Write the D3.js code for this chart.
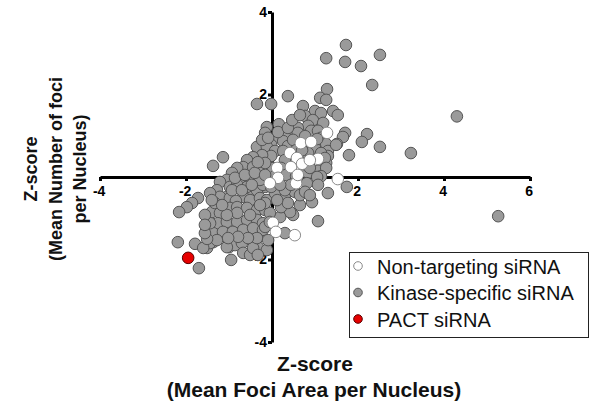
<!DOCTYPE html>
<html>
<head>
<meta charset="utf-8">
<script src="https://cdn.jsdelivr.net/npm/d3@7"></script>
<style>
  html, body { margin: 0; padding: 0; background: #fff; }
  svg { display: block; font-family: "Liberation Sans", Arial, Helvetica, sans-serif; }
</style>
</head>
<body>
<svg id="chart" width="592" height="408"></svg>
<script>
// ---- data ----
const seriesNames = ["Non-targeting siRNA", "Kinase-specific siRNA", "PACT siRNA"];
const xTickValues = [-4, -2, 2, 4, 6];
const yTickValues = [4, 2, -2, -4];

// Kinase-specific siRNA  [x = Z-score mean foci area, y = Z-score mean number of foci]
const kinase = [
  [1.72,3.20],[1.26,2.88],[1.70,2.79],[2.07,2.69],[2.51,2.96],[2.33,2.23],[1.28,2.13],[1.12,1.92],
  [1.26,1.87],[0.37,1.96],[-0.35,1.77],[-0.02,1.77],[4.30,1.47],[1.42,1.60],[1.53,1.50],[0.16,1.28],
  [-0.12,1.21],[1.70,1.07],[1.65,0.97],[2.21,1.04],[2.09,0.85],[2.51,0.73],[1.51,0.80],[1.79,0.53],
  [3.23,0.58],[1.74,-0.24],[1.30,-0.39],[5.26,-0.95],[1.07,-1.07],[0.93,-0.61],[0.30,-1.36],[0.49,-0.92],
  [-1.14,0.48],[-1.37,0.27],[-1.72,-0.51],[-1.86,-0.63],[-1.98,-0.73],[-2.16,-0.85],[-2.19,-1.58],[-1.79,-1.62],
  [-1.70,-2.21],[-1.51,-1.72],[-1.37,-1.58],[-0.95,-2.01],[-1.00,-1.70],[-0.86,-1.65],[-0.70,-1.60],[-0.67,-1.84],
  [-0.51,-1.89],[-0.33,-1.70],
  [0.72,1.72],[1.00,1.60],[1.14,1.55],[0.77,1.48],[0.95,1.38],[1.19,1.31],[0.84,1.24],[0.60,1.19],
  [0.91,1.12],[1.07,1.12],[0.49,1.02],[0.30,0.99],[0.07,0.95],[-0.16,1.07],[0.60,1.07],[0.77,0.99],
  [1.14,0.95],[0.26,0.87],[-0.02,0.78],[0.37,0.75],[1.07,0.75],[1.00,0.70],[1.26,0.80],[1.30,0.63],
  [1.30,0.51],[1.26,0.34],[1.49,0.78],[-0.35,0.73],[-0.12,0.73],[0.07,0.63],[0.26,0.63],[-0.02,0.51],
  [-0.23,0.53],[-0.44,0.48],[-0.58,0.41],[1.14,0.58],[0.84,0.58],[1.23,0.46],[0.88,0.41],[0.65,0.53],
  [0.53,0.41],[0.30,0.41],[0.21,0.22],[0.02,0.22],[0.09,0.05],[0.33,0.05],[0.56,0.02],[0.84,0.10],
  [1.07,0.15],[1.26,0.22],[1.14,0.02],[-0.67,0.24],[-0.81,0.22],[-0.93,0.10],[-0.28,0.10],[-0.44,0.24],
  [-0.16,0.34],[0.72,0.34],[0.88,0.22],[0.49,0.90],[1.05,0.92],
  [-1.05,-0.07],[-1.21,-0.12],[-1.28,-0.32],[-0.98,-0.24],[-0.74,-0.15],[-0.51,-0.07],[-0.16,-0.24],[-0.44,-0.39],
  [-0.67,-0.48],[-1.05,-0.48],[-0.81,-0.19],[-0.58,-0.24],[-0.35,-0.32],[-0.21,-0.19],[-1.21,-0.48],[-0.98,-0.51],
  [-0.84,-0.58],[-0.51,-0.56],[-0.28,-0.51],[-0.12,-0.56],[-1.40,-0.85],[-1.21,-0.87],[-0.98,-0.75],[-0.81,-0.73],
  [-0.58,-0.75],[-0.35,-0.80],[-0.16,-0.80],[-1.26,-1.12],[-1.05,-1.09],[-0.81,-1.09],[-0.58,-1.04],[-0.35,-1.04],
  [-0.21,-1.12],[-1.37,-1.36],[-1.14,-1.33],[-0.91,-1.33],[-0.67,-1.28],[-0.44,-1.24],[-0.21,-1.28],[-1.44,-1.60],
  [-1.28,-1.53],[-1.05,-1.70],[-0.44,-1.72],[-0.12,-1.77],[-1.60,-1.72],[-1.51,-1.50],[-0.33,-1.89],[-1.44,-1.12],
  [-1.56,-1.36],[-1.33,-0.63],[-1.44,-0.39],[0.53,-0.36],[0.30,-0.51],[0.65,-0.68],[0.42,-0.85],[0.19,-0.97],
  [-0.05,-0.87],[-0.16,-1.21],[-0.16,-0.63],[-0.28,-0.07],[0.81,-0.15],[1.05,0.00],[0.21,-0.73],[0.37,-0.63],
  [0.65,-0.44],[0.07,-0.39],[-0.02,-0.24],[0.30,-0.32],[0.44,-0.19],[0.77,-0.36],[0.12,-0.56],[0.88,-0.44],
  [1.07,-0.19],[0.19,-0.19],[-0.05,-1.09],[-0.35,-1.48],[-0.56,-1.48],[-0.79,-1.45],[-1.02,-1.48],[-0.81,-0.87],
  [-1.05,-0.92],[-0.51,-0.92],[-0.93,-0.32],[-0.70,-0.32],[-0.47,-0.19],[-0.86,-0.02],[-0.63,0.05],[-0.40,0.10],
  [-0.16,0.05],[-0.33,0.36],[-0.23,0.90],[-0.09,0.95],[0.14,1.09],[0.37,1.19],[0.47,1.38],[0.65,1.50],
  [0.56,0.65],[0.70,0.65],[-0.28,-0.68],[-1.16,-0.68],[-1.40,-0.56],[-1.56,-0.92],[-1.56,-1.16],[-0.09,-1.53]
];

// Non-targeting siRNA
const nonTargeting = [
  [0.67,0.82],[0.91,0.85],[0.42,0.58],[0.58,0.46],[0.70,0.32],[0.44,0.24],[0.12,0.22],[0.14,-0.02],
  [-0.05,-0.15],[0.56,-0.15],[0.60,0.05],[1.07,0.44],[0.88,0.41],[1.28,1.07],[1.53,-0.05],[0.02,-1.11],
  [0.09,-1.33],[0.53,-1.41]
];

// PACT siRNA
const pact = [[-1.95,-1.96]];

// ---- drawing ----
const svg = d3.select("#chart");
const x = d3.scaleLinear().domain([-4, 6]).range([100, 530]);
const y = d3.scaleLinear().domain([-4, 4]).range([342, 12]);

const styles = {
  "Non-targeting siRNA": { fill: "#ffffff", stroke: "#8a8a8a" },
  "Kinase-specific siRNA": { fill: "#9a9a9a", stroke: "#555555" },
  "PACT siRNA": { fill: "#e60000", stroke: "#5a0000" }
};

// axes (hyphen-minus labels as in the original)
const fmt = d => String(d);
const xAxis = d3.axisBottom(x).tickValues(xTickValues).tickSize(4).tickSizeOuter(0).tickPadding(5).tickFormat(fmt);
const yAxis = d3.axisLeft(y).tickValues(yTickValues).tickSize(4).tickSizeOuter(0).tickPadding(1).tickFormat(fmt);

const gx = svg.append("g").attr("transform", `translate(0,${y(0)})`).call(xAxis);
const gy = svg.append("g").attr("transform", `translate(${x(0)},0)`).call(yAxis);

[gx, gy].forEach(g => {
  g.select(".domain").attr("stroke", "#000").attr("stroke-width", 3);
  g.selectAll(".tick line").attr("stroke", "#000").attr("stroke-width", 3);
  g.selectAll(".tick text").attr("fill", "#000")
    .style("font-size", "14px").style("font-weight", "bold")
    .style("font-family", "'Liberation Sans', Arial, sans-serif");
});
gx.selectAll(".tick text").attr("dx", "-0.1em");

// points
function drawSeries(data, name) {
  const st = styles[name];
  svg.append("g").selectAll("circle").data(data).join("circle")
    .attr("cx", d => x(d[0])).attr("cy", d => y(d[1])).attr("r", 5.8)
    .attr("fill", st.fill).attr("stroke", st.stroke).attr("stroke-width", 1);
}
drawSeries(kinase, "Kinase-specific siRNA");
drawSeries(nonTargeting, "Non-targeting siRNA");
drawSeries(pact, "PACT siRNA");

// axis titles
const xt = svg.append("text").attr("text-anchor", "middle")
  .style("font-size", "21px").style("font-weight", "bold").attr("fill", "#111");
xt.append("tspan").attr("x", 315).attr("y", 371).text("Z-score");
xt.append("tspan").attr("x", 314).attr("y", 397).text("(Mean Foci Area per Nucleus)");

const yt = svg.append("text").attr("text-anchor", "middle")
  .attr("transform", "translate(0,169) rotate(-90)")
  .style("font-size", "18px").style("font-weight", "bold").attr("fill", "#111");
yt.append("tspan").attr("x", 0).attr("y", 37).text("Z-score");
yt.append("tspan").attr("x", 0).attr("y", 62).text("(Mean Number of foci");
yt.append("tspan").attr("x", 0).attr("y", 86).text("per Nucleus)");

// legend
const lg = svg.append("g");
lg.append("rect").attr("x", 349.5).attr("y", 252.5).attr("width", 239).attr("height", 85)
  .attr("fill", "#fff").attr("stroke", "#222").attr("stroke-width", 1);
seriesNames.forEach((name, i) => {
  const cy = 266 + i * 26.5;
  lg.append("circle").attr("cx", 358).attr("cy", cy).attr("r", 4.3)
    .attr("fill", styles[name].fill).attr("stroke", styles[name].stroke).attr("stroke-width", 1);
  lg.append("text").attr("x", 377).attr("y", cy + 7.5)
    .style("font-size", "20px").attr("fill", "#111").text(name);
});
</script>
</body>
</html>
